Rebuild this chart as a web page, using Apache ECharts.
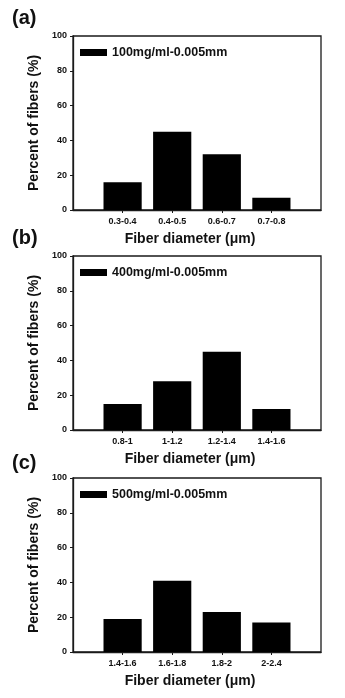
<!DOCTYPE html>
<html>
<head>
<meta charset="utf-8">
<script src="https://cdn.jsdelivr.net/npm/echarts@6/dist/echarts.min.js"></script>
<style>
  html, body { margin: 0; padding: 0; background: #fff; }
  #chart { width: 345px; height: 698px; }
</style>
</head>
<body>
<div id="chart"></div>
<script>
// Fiber diameter distributions for three solution concentrations
const panelLabels = ['(a)', '(b)', '(c)'];
const seriesNames = ['100mg/ml-0.005mm', '400mg/ml-0.005mm', '500mg/ml-0.005mm'];

const categoriesA = ['0.3-0.4', '0.4-0.5', '0.6-0.7', '0.7-0.8'];
const valuesA = [16, 45, 32, 7];

const categoriesB = ['0.8-1', '1-1.2', '1.2-1.4', '1.4-1.6'];
const valuesB = [15, 28, 45, 12];

const categoriesC = ['1.4-1.6', '1.6-1.8', '1.8-2', '2-2.4'];
const valuesC = [19, 41, 23, 17];

const yTicks = [0, 20, 40, 60, 80, 100];

const FONT = 'Arial, "Liberation Sans", sans-serif';
const INK = '#1a1a1a';

const gridTops = [36, 256, 478];
const titleTops = [8, 228, 453];
const allCats = [categoriesA, categoriesB, categoriesC];
const allVals = [valuesA, valuesB, valuesC];

const option = {
  backgroundColor: '#ffffff',
  animation: false,
  title: [],
  legend: [],
  grid: [],
  xAxis: [],
  yAxis: [],
  series: []
};

for (let i = 0; i < 3; i++) {
  // an empty slot at each end leaves half-gaps beside the outer bars
  const cats = [''].concat(allCats[i], ['']);
  const vals = ['-'].concat(allVals[i], ['-']);

  option.title.push({
    text: panelLabels[i],
    left: 12,
    top: titleTops[i],
    padding: 0,
    textStyle: { fontFamily: FONT, fontSize: 20, fontWeight: 'bold', color: '#111' }
  });

  option.grid.push({
    left: 73, top: gridTops[i], width: 248, height: 174,
    show: true, borderColor: INK, borderWidth: 1.3, backgroundColor: 'transparent'
  });

  option.legend.push({
    data: [{ name: seriesNames[i], icon: 'rect' }],
    left: 80,
    top: gridTops[i] + 10,
    padding: 0,
    itemWidth: 27,
    itemHeight: 7,
    selectedMode: false,
    textStyle: { fontFamily: FONT, fontSize: 12.5, fontWeight: 'bold', color: '#111', padding: [0, 0, 0, 0] }
  });

  option.xAxis.push({
    type: 'category',
    gridIndex: i,
    data: cats,
    boundaryGap: false,
    name: 'Fiber diameter (\u03bcm)',
    nameLocation: 'middle',
    nameGap: 22,
    nameTextStyle: { fontFamily: FONT, fontSize: 14, fontWeight: 'bold', color: '#111', padding: [0, 14, 0, 0] },
    axisLine: { show: true, lineStyle: { color: INK, width: 1.3 } },
    axisTick: { show: true, inside: false, length: 3, interval: (idx) => idx >= 1 && idx <= 4, lineStyle: { color: INK } },
    axisLabel: { interval: 0, margin: 7, fontFamily: FONT, fontSize: 9, fontWeight: 'bold', color: '#111' },
    splitLine: { show: false }
  });

  option.yAxis.push({
    type: 'value',
    gridIndex: i,
    min: yTicks[0],
    max: yTicks[yTicks.length - 1],
    interval: yTicks[1] - yTicks[0],
    name: 'Percent of fibers (%)',
    nameLocation: 'middle',
    nameGap: 27,
    nameRotate: 90,
    nameTextStyle: { fontFamily: FONT, fontSize: 14, fontWeight: 'bold', color: '#111' },
    axisLine: { show: true, lineStyle: { color: INK, width: 1.3 } },
    axisTick: { show: true, inside: false, length: 3, lineStyle: { color: INK } },
    axisLabel: { margin: 6, fontFamily: FONT, fontSize: 9, fontWeight: 'bold', color: '#111' },
    splitLine: { show: false }
  });

  option.series.push({
    name: seriesNames[i],
    type: 'bar',
    xAxisIndex: i,
    yAxisIndex: i,
    data: vals,
    barWidth: '77%',
    itemStyle: { color: '#000000' }
  });
}

const chart = echarts.init(document.getElementById('chart'), null, { renderer: 'canvas' });
chart.setOption(option);
</script>
</body>
</html>
